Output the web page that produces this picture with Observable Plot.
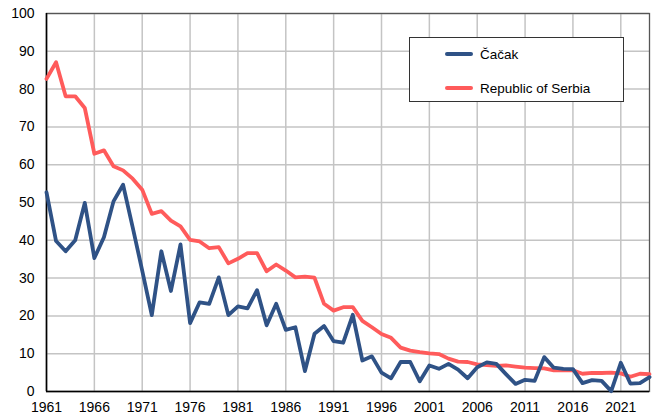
<!DOCTYPE html>
<html>
<head>
<meta charset="utf-8">
<script src="https://cdn.jsdelivr.net/npm/d3@7"></script>
<script src="https://cdn.jsdelivr.net/npm/@observablehq/plot@0.6"></script>
<style>
  html, body { margin: 0; padding: 0; background: #fff; }
  #wrap { position: relative; width: 652px; height: 420px; font-family: "Liberation Sans", Arial, sans-serif; }
  #legend { position: absolute; left: 409px; top: 37px; width: 215px; height: 65px; border: 1px solid #333; background: #fff; box-sizing: border-box; }
  .item { position: absolute; left: 0; height: 20px; display: flex; align-items: center; font-size: 13.5px; color: #000; }
  .swatch { display: inline-block; width: 28px; height: 4.5px; border-radius: 2px; margin-left: 35px; margin-right: 7px; }
</style>
</head>
<body>
<div id="wrap"></div>
<script>
const years = d3.range(1961, 2025);
const seriesNames = ["Čačak", "Republic of Serbia"];
const seriesColors = ["#2F5286", "#FF5B5B"];
const cacak = [
  52.7, 39.8, 37.1, 40.0, 49.9, 35.3, 40.8, 50.3, 54.7, 43.5,
  32.0, 20.2, 37.1, 26.6, 38.9, 18.1, 23.6, 23.2, 30.2, 20.2,
  22.5, 22.0, 26.8, 17.5, 23.2, 16.3, 17.0, 5.4, 15.3, 17.3,
  13.3, 12.9, 20.3, 8.2, 9.3, 5.0, 3.5, 7.8, 7.8, 2.7,
  6.9, 6.0, 7.3, 5.8, 3.5, 6.4, 7.7, 7.3, 4.6, 2.0,
  3.1, 2.8, 9.1, 6.3, 6.0, 5.9, 2.2, 3.0, 2.8, 0.1,
  7.6, 2.1, 2.2, 3.8
];
const serbia = [
  82.7, 87.1, 78.1, 78.1, 75.0, 62.9, 63.8, 59.6, 58.5, 56.3,
  53.4, 47.0, 47.7, 45.2, 43.7, 40.1, 39.7, 37.9, 38.2, 33.9,
  35.1, 36.6, 36.6, 31.8, 33.6, 32.0, 30.2, 30.4, 30.1, 23.2,
  21.4, 22.3, 22.3, 18.7, 17.0, 15.2, 14.2, 11.6, 10.8, 10.4,
  10.1, 9.9, 8.7, 7.9, 7.8, 7.2, 7.0, 6.8, 6.9, 6.6,
  6.3, 6.2, 6.1, 5.6, 5.6, 5.6, 4.7, 4.9, 4.9, 5.0,
  4.8, 3.9, 4.7, 4.6
];
const xTicks = [1961, 1966, 1971, 1976, 1981, 1986, 1991, 1996, 2001, 2006, 2011, 2016, 2021];
const yTicks = [0, 10, 20, 30, 40, 50, 60, 70, 80, 90, 100];

const rowsC = years.map((y, i) => ({year: y, value: cacak[i]}));
const rowsS = years.map((y, i) => ({year: y, value: serbia[i]}));

const chart = Plot.plot({
  width: 652,
  height: 420,
  marginLeft: 46,
  marginTop: 13,
  marginRight: 3,
  marginBottom: 29,
  style: {fontFamily: "'Liberation Sans', Arial, sans-serif", fontSize: "14px", color: "#000", background: "#fff"},
  x: {domain: [1961, 2024]},
  y: {domain: [0, 100]},
  marks: [
    Plot.ruleX(xTicks, {stroke: "#c4c4c4", strokeWidth: 1.5}),
    Plot.ruleY(yTicks, {stroke: "#c4c4c4", strokeWidth: 1.5}),
    Plot.frame({stroke: "#555", strokeWidth: 1.3}),
    Plot.ruleX([1961], {stroke: "#000", strokeWidth: 1.5}),
    Plot.ruleY([0], {stroke: "#000", strokeWidth: 1.5}),
    Plot.axisX({ticks: xTicks, tickFormat: d => String(d), tickSize: 0, tickPadding: 11, label: null, fontSize: 14}),
    Plot.axisY({ticks: yTicks, tickSize: 0, tickPadding: 12, label: null, fontSize: 14}),
    Plot.line(rowsS, {x: "year", y: "value", stroke: seriesColors[1], strokeWidth: 3.8, strokeLinejoin: "round"}),
    Plot.line(rowsC, {x: "year", y: "value", stroke: seriesColors[0], strokeWidth: 3.8, strokeLinejoin: "round"})
  ]
});

const wrap = document.getElementById("wrap");
wrap.appendChild(chart);
const legend = document.createElement("div");
legend.id = "legend";
seriesNames.forEach((name, i) => {
  const item = document.createElement("div");
  item.className = "item";
  item.style.top = (i === 0 ? 6 : 40) + "px";
  const sw = document.createElement("span");
  sw.className = "swatch";
  sw.style.background = seriesColors[i];
  const t = document.createElement("span");
  t.textContent = name;
  item.appendChild(sw);
  item.appendChild(t);
  legend.appendChild(item);
});
wrap.appendChild(legend);
</script>
</body>
</html>
